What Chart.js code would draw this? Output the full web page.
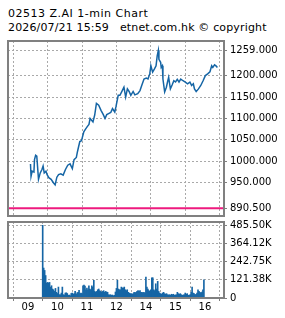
<!DOCTYPE html>
<html>
<head>
<meta charset="utf-8">
<script src="https://cdn.jsdelivr.net/npm/chart.js@4.4.0/dist/chart.umd.min.js"></script>
<style>
  html, body { margin: 0; padding: 0; background: #fff; }
  #wrap { position: relative; width: 285px; height: 318px; overflow: hidden; font-family: 'DejaVu Sans', sans-serif; }
  .hdr { position: absolute; left: 8px; font-size: 11px; color: #000; white-space: pre; }
  canvas { position: absolute; left: 0; }
</style>
</head>
<body>
<div id="wrap">
  <div class="hdr" style="top:7px; letter-spacing:0.5px">02513 Z.AI 1-min Chart</div>
  <div class="hdr" style="top:21px; letter-spacing:0.15px">2026/07/21 15:59   etnet.com.hk © copyright</div>
  <canvas id="priceChart" width="285" height="186" style="top:36px"></canvas>
  <canvas id="volChart" width="285" height="100" style="top:218px"></canvas>
</div>
<script>
// 1분봉 가격 (읽은 값)
const priceTimes = [
  '09:30','09:31','09:33','09:36','09:37','09:39','09:41','09:44','09:47','09:50',
  '09:52','09:54','09:57','09:59','10:02','10:06','10:10','10:13','10:16','10:19',
  '10:23','10:27','10:31','10:35','10:39','10:43','10:46','10:50','10:52','10:56',
  '10:59','11:03','11:06','11:09','11:12','11:14','11:19','11:22','11:25','11:29',
  '11:33','11:37','11:40','11:43','11:47','11:50','11:53','11:57','11:59',
  '13:03','13:06','13:09','13:13','13:16','13:19','13:22','13:25','13:29','13:32',
  '13:37','13:41','13:44','13:48','13:52','13:55','13:58','14:00','14:03','14:06',
  '14:09','14:11','14:13','14:14','14:17','14:18','14:20','14:21','14:24','14:27',
  '14:29','14:31','14:34','14:37','14:40','14:43','14:46','14:49','14:52','14:56',
  '15:00','15:04','15:08','15:11','15:14','15:16','15:19','15:23','15:27','15:31',
  '15:35','15:39','15:43','15:46','15:48','15:51','15:54','15:56'
];
const priceValues = [
  994, 965, 977, 975, 1004, 1014, 1012, 958, 973, 981,
  989, 973, 977, 969, 962, 958, 950, 945, 963, 969,
  971, 968, 981, 991, 994, 983, 1004, 1009, 1023, 1046,
  1048, 1069, 1075, 1081, 1086, 1100, 1092, 1108, 1135, 1131,
  1119, 1109, 1100, 1109, 1112, 1114, 1123, 1115, 1127,
  1154, 1154, 1162, 1173, 1150, 1169, 1163, 1154, 1163, 1155,
  1158, 1165, 1177, 1192, 1194, 1192, 1204, 1223, 1208, 1215,
  1223, 1246, 1259, 1238, 1231, 1219, 1223, 1192, 1162, 1173,
  1185, 1196, 1169, 1178, 1188, 1185, 1191, 1185, 1192, 1188,
  1185, 1181, 1185, 1177, 1181, 1169, 1163, 1169, 1177, 1188,
  1200, 1204, 1209, 1223, 1219, 1225, 1222, 1219
];
const prevClose = 890.5;
const priceTicks = [890.5, 950, 1000, 1050, 1100, 1150, 1200, 1259];

// 거래량 (천 주, 2분 단위) 09:30~11:58 / 13:00~15:58
const amVolume = [
  485.5, 200, 184, 150, 100, 104, 100, 104, 73, 82,
  60, 55, 44, 64, 38, 30, 73, 22, 22, 33,
  73, 22, 20, 33, 35, 30, 18, 20, 15, 30,
  33, 25, 29, 44, 25, 35, 38, 51, 30, 33,
  30, 82, 86, 80, 55, 67, 55, 82, 60, 55,
  82, 73, 118, 44, 38, 44, 55, 60, 49, 44,
  38, 44, 49, 38, 44, 40, 38, 22, 20, 22,
  18, 20, 15, 18, 40
];
const pmVolume = [
  64, 118, 60, 55, 55, 73, 67, 67, 73, 55,
  49, 55, 38, 33, 29, 29, 25, 29, 38, 35,
  38, 44, 49, 44, 49, 38, 38, 35, 38, 33,
  140, 73, 60, 49, 44, 55, 135, 135, 55, 49,
  95, 60, 111, 44, 33, 29, 25, 33, 38, 29,
  25, 29, 22, 20, 22, 18, 25, 22, 25, 18,
  20, 22, 38, 29, 25, 29, 22, 18, 20, 22,
  33, 25, 29, 18, 20, 22, 38, 73, 33, 29,
  22, 25, 33, 55, 44, 38, 33, 40, 55, 122
];
const volTicks = [0, 121.375, 242.75, 364.125, 485.5];
const volLabels = ['0', '121.38K', '242.75K', '364.12K', '485.50K'];

const hourTicks = [0, 60, 120, 180, 240, 300, 360];
const hourLabels = ['09', '10', '11', '12', '14', '15', '16'];

const BLUE = '#1565a5';
const PINK = '#ee1a7e';
const GRID = '#a9a9a9';
const FRAME = '#808080';
const X_MIN = -9.2, X_MAX = 367.5;
const tickFont = { family: 'DejaVu Sans', size: 10 };

// 09:00 기준 분, 점심시간(12:00~13:00) 제외
function tradeMin(hhmm) {
    const [h, m] = hhmm.split(':').map(Number);
    let t = (h - 9) * 60 + m;
    if (h >= 13) t -= 60;
    return t;
}

// 축 라벨 때문에 생기는 여백 제거 -> layout.padding 값으로 영역 고정
function noPad(s) {
    s.paddingTop = 0;
    s.paddingBottom = 0;
    s.paddingLeft = 0;
    s.paddingRight = 0;
}

const framePlugin = {
    id: 'frame',
    afterDraw(chart) {
        const { ctx, chartArea: a } = chart;
        ctx.save();
        ctx.strokeStyle = FRAME;
        ctx.lineWidth = 2;
        ctx.strokeRect(a.left, a.top, a.right - a.left, a.bottom - a.top);
        ctx.restore();
    }
};

const pricePoints = priceTimes.map((t, i) => ({ x: tradeMin(t), y: priceValues[i] }));
const volPoints = [];
amVolume.forEach((v, i) => volPoints.push({ x: tradeMin('09:30') + i * 2, y: v }));
pmVolume.forEach((v, i) => volPoints.push({ x: tradeMin('13:00') + i * 2, y: v }));

new Chart(document.getElementById('priceChart'), {
    type: 'line',
    data: {
        datasets: [
            {
                data: pricePoints,
                borderColor: BLUE,
                borderWidth: 1.5,
                pointRadius: 0,
                tension: 0
            },
            {
                data: [{ x: X_MIN, y: prevClose }, { x: X_MAX, y: prevClose }],
                borderColor: PINK,
                borderWidth: 2,
                pointRadius: 0
            }
        ]
    },
    options: {
        responsive: false,
        animation: false,
        devicePixelRatio: 1,
        layout: { padding: { left: 8, top: 5, bottom: 6, right: 0 } },
        plugins: { legend: { display: false }, tooltip: { enabled: false } },
        scales: {
            x: {
                type: 'linear',
                min: X_MIN,
                max: X_MAX,
                afterBuildTicks: s => { s.ticks = hourTicks.map(v => ({ value: v })); },
                afterFit: s => { s.height = 0; noPad(s); },
                ticks: { display: false },
                grid: { color: GRID, drawTicks: false },
                border: { display: false, dash: [2, 2] }
            },
            y: {
                position: 'right',
                min: 872.5,
                max: 1280.7,
                afterBuildTicks: s => { s.ticks = priceTicks.map(v => ({ value: v })); },
                afterFit: s => { s.width = 61; noPad(s); },
                ticks: {
                    font: tickFont,
                    color: '#000',
                    padding: 3,
                    callback: v => v.toFixed(3)
                },
                grid: { color: GRID, tickLength: 3, tickColor: FRAME, tickBorderDash: [] },
                border: { display: false, dash: [2, 2] }
            }
        }
    },
    plugins: [framePlugin]
});

new Chart(document.getElementById('volChart'), {
    type: 'bar',
    data: {
        datasets: [{
            data: volPoints,
            backgroundColor: BLUE,
            borderWidth: 0,
            barPercentage: 1,
            categoryPercentage: 1
        }]
    },
    options: {
        responsive: false,
        animation: false,
        devicePixelRatio: 1,
        layout: { padding: { left: 8, top: 4, bottom: 0, right: 0 } },
        plugins: { legend: { display: false }, tooltip: { enabled: false } },
        scales: {
            x: {
                type: 'linear',
                min: X_MIN,
                max: X_MAX,
                afterBuildTicks: s => { s.ticks = hourTicks.map(v => ({ value: v })); },
                afterFit: s => { s.height = 20; noPad(s); },
                ticks: {
                    font: tickFont,
                    color: '#000',
                    padding: 0,
                    maxRotation: 0,
                    autoSkip: false,
                    callback: (v, i) => hourLabels[i]
                },
                grid: { color: GRID, tickLength: 3, tickColor: FRAME, tickBorderDash: [] },
                border: { display: false, dash: [2, 2] }
            },
            y: {
                position: 'right',
                min: 0,
                max: 507.5,
                afterBuildTicks: s => { s.ticks = volTicks.map(v => ({ value: v })); },
                afterFit: s => { s.width = 61; noPad(s); },
                ticks: {
                    font: tickFont,
                    color: '#000',
                    padding: 3,
                    callback: (v, i) => volLabels[i]
                },
                grid: { color: GRID, tickLength: 3, tickColor: FRAME, tickBorderDash: [] },
                border: { display: false, dash: [2, 2] }
            }
        }
    },
    plugins: [framePlugin]
});
</script>
</body>
</html>
